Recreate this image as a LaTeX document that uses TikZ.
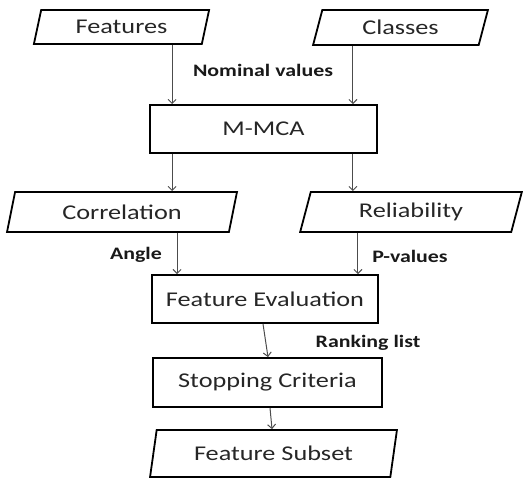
\documentclass[tikz,border=0pt]{standalone}
\usepackage{fontspec}
\setmainfont{Carlito}[FakeStretch=1.25]
\usepackage{xcolor}
\usetikzlibrary{shapes.geometric, arrows.meta}

\definecolor{boxtext}{gray}{0.15}
\definecolor{arrowgray}{gray}{0.3}

\begin{document}
\begin{tikzpicture}[x=1pt, y=-1pt,
    procbox/.style={draw=black, line width=1.8pt, rectangle, inner sep=0pt,
        text=boxtext, font=\fontsize{21}{25}\selectfont},
    databox/.style={draw=black, line width=1.8pt, trapezium, trapezium stretches=true,
        trapezium left angle=73, trapezium right angle=107, inner sep=0pt,
        text=boxtext, font=\fontsize{21}{25}\selectfont},
    flowlabel/.style={font=\fontsize{17.5}{20}\selectfont\bfseries, text=black!90},
    arr/.style={draw=arrowgray, line width=1pt, -{Straight Barb[length=4pt,width=8pt]}}]
            \useasboundingbox (0,0) rectangle (523,479);

            % inputs
            \node[databox, minimum width=177pt, minimum height=34pt] (feat) at (121.5, 27) {Features};
            \node[databox, minimum width=175pt, minimum height=35pt] (cls) at (400.5, 27.5) {Classes};
            \node[procbox, minimum width=227pt, minimum height=48pt] (mmca) at (263.5, 129) {M-MCA};

            % outputs of M-MCA
            \node[databox, minimum width=230pt, minimum height=40pt] (corr) at (122, 212) {Correlation};
            \node[databox, minimum width=222pt, minimum height=40pt] (rel) at (411, 212) {Reliability};

            \node[procbox, minimum width=226pt, minimum height=48pt] (fe) at (265, 299) {Feature Evaluation};
            \node[procbox, minimum width=229pt, minimum height=49pt] (sc) at (267.5, 382.5) {Stopping Criteria};
            \node[databox, minimum width=247pt, minimum height=47pt] (fs) at (273.5, 453.5) {Feature Subset};

            % labels
            \node[flowlabel] (nomlbl) at (263, 70) {Nominal values};
            \node[flowlabel] (anglbl) at (136, 255) {Angle};
            \node[flowlabel] (pvlbl) at (410, 256) {P-values};
            \node[flowlabel] (ranklbl) at (368, 343) {Ranking list};

            \draw[arr] ([xshift=23pt]mmca.north west |- feat.south) -- ([xshift=23pt]mmca.north west); % feat-mmca
            \draw[arr] ([xshift=-25pt]mmca.north east |- cls.south) -- ([xshift=-25pt]mmca.north east); % cls-mmca
            \draw[arr] ([xshift=23pt]mmca.south west) -- ([xshift=23pt]mmca.south west |- corr.north); % mmca-corr
            \draw[arr] ([xshift=-25pt]mmca.south east) -- ([xshift=-25pt]mmca.south east |- rel.north); % mmca-rel
            \draw[arr] ([xshift=26pt]fe.north west |- corr.south) -- ([xshift=26pt]fe.north west); % corr-fe
            \draw[arr] ([xshift=-21pt]fe.north east |- rel.south) -- ([xshift=-21pt]fe.north east); % rel-fe
            \draw[arr] ([xshift=-2pt]fe.south) -- ([xshift=0.5pt]sc.north); % fe-sc
            \draw[arr] ([xshift=2.5pt]sc.south) -- ([xshift=-1.5pt]fs.north); % sc-fs
        \end{tikzpicture}
\end{document}
